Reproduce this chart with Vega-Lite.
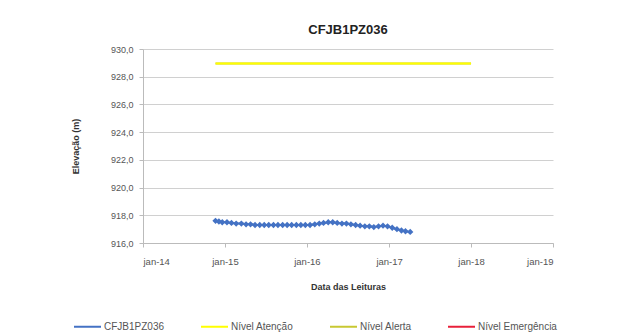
{
  "$schema": "https://vega.github.io/schema/vega-lite/v6.json",
  "autosize": "none",
  "width": 410,
  "height": 194,
  "padding": {"left": 143, "top": 49, "right": 71, "bottom": 92},
  "background": "white",
  "config": {
    "font": "Liberation Sans",
    "view": {"stroke": null}
  },
  "title": {
    "text": "CFJB1PZ036",
    "fontSize": 13,
    "font": "Liberation Sans",
    "fontWeight": "bold",
    "color": "#222222",
    "offset": 8
  },
  "data": {
    "values": [
      {"date": "2014-11-20", "value": 917.6, "serie": "CFJB1PZ036"},
      {"date": "2014-12-05", "value": 917.55, "serie": "CFJB1PZ036"},
      {"date": "2014-12-20", "value": 917.5, "serie": "CFJB1PZ036"},
      {"date": "2015-01-10", "value": 917.5, "serie": "CFJB1PZ036"},
      {"date": "2015-01-30", "value": 917.45, "serie": "CFJB1PZ036"},
      {"date": "2015-02-20", "value": 917.4, "serie": "CFJB1PZ036"},
      {"date": "2015-03-15", "value": 917.4, "serie": "CFJB1PZ036"},
      {"date": "2015-04-05", "value": 917.35, "serie": "CFJB1PZ036"},
      {"date": "2015-04-25", "value": 917.35, "serie": "CFJB1PZ036"},
      {"date": "2015-05-15", "value": 917.3, "serie": "CFJB1PZ036"},
      {"date": "2015-06-05", "value": 917.3, "serie": "CFJB1PZ036"},
      {"date": "2015-06-25", "value": 917.3, "serie": "CFJB1PZ036"},
      {"date": "2015-07-15", "value": 917.3, "serie": "CFJB1PZ036"},
      {"date": "2015-08-05", "value": 917.3, "serie": "CFJB1PZ036"},
      {"date": "2015-08-25", "value": 917.3, "serie": "CFJB1PZ036"},
      {"date": "2015-09-15", "value": 917.3, "serie": "CFJB1PZ036"},
      {"date": "2015-10-05", "value": 917.3, "serie": "CFJB1PZ036"},
      {"date": "2015-10-25", "value": 917.3, "serie": "CFJB1PZ036"},
      {"date": "2015-11-15", "value": 917.3, "serie": "CFJB1PZ036"},
      {"date": "2015-12-05", "value": 917.3, "serie": "CFJB1PZ036"},
      {"date": "2015-12-25", "value": 917.3, "serie": "CFJB1PZ036"},
      {"date": "2016-01-15", "value": 917.3, "serie": "CFJB1PZ036"},
      {"date": "2016-02-05", "value": 917.35, "serie": "CFJB1PZ036"},
      {"date": "2016-02-25", "value": 917.4, "serie": "CFJB1PZ036"},
      {"date": "2016-03-15", "value": 917.45, "serie": "CFJB1PZ036"},
      {"date": "2016-04-05", "value": 917.5, "serie": "CFJB1PZ036"},
      {"date": "2016-04-25", "value": 917.5, "serie": "CFJB1PZ036"},
      {"date": "2016-05-15", "value": 917.45, "serie": "CFJB1PZ036"},
      {"date": "2016-06-05", "value": 917.4, "serie": "CFJB1PZ036"},
      {"date": "2016-06-25", "value": 917.4, "serie": "CFJB1PZ036"},
      {"date": "2016-07-15", "value": 917.35, "serie": "CFJB1PZ036"},
      {"date": "2016-08-05", "value": 917.3, "serie": "CFJB1PZ036"},
      {"date": "2016-08-25", "value": 917.25, "serie": "CFJB1PZ036"},
      {"date": "2016-09-15", "value": 917.2, "serie": "CFJB1PZ036"},
      {"date": "2016-10-05", "value": 917.2, "serie": "CFJB1PZ036"},
      {"date": "2016-10-25", "value": 917.15, "serie": "CFJB1PZ036"},
      {"date": "2016-11-15", "value": 917.2, "serie": "CFJB1PZ036"},
      {"date": "2016-12-05", "value": 917.25, "serie": "CFJB1PZ036"},
      {"date": "2016-12-25", "value": 917.2, "serie": "CFJB1PZ036"},
      {"date": "2017-01-15", "value": 917.1, "serie": "CFJB1PZ036"},
      {"date": "2017-02-05", "value": 917.0, "serie": "CFJB1PZ036"},
      {"date": "2017-02-25", "value": 916.9, "serie": "CFJB1PZ036"},
      {"date": "2017-03-15", "value": 916.85, "serie": "CFJB1PZ036"},
      {"date": "2017-04-05", "value": 916.8, "serie": "CFJB1PZ036"},
      {"date": "2014-11-20", "value": 928.95, "serie": "Nível Alerta"},
      {"date": "2018-01-01", "value": 928.95, "serie": "Nível Alerta"},
      {"date": "2014-11-20", "value": 928.95, "serie": "Nível Atenção"},
      {"date": "2018-01-01", "value": 928.95, "serie": "Nível Atenção"}
    ]
  },
  "encoding": {
    "x": {
      "field": "date",
      "type": "temporal",
      "scale": {"type": "utc", "domain": [1388534400000, 1546300800000]},
      "axis": {
        "title": "Data das Leituras",
        "titleFont": "Liberation Sans",
        "titleFontSize": 9,
        "titleFontWeight": "bold",
        "titleColor": "#333333",
        "titlePadding": 17,
        "values": [1388534400000, 1420070400000, 1451606400000, 1483228800000, 1514764800000, 1546300800000],
        "labelExpr": "'jan-' + utcFormat(datum.value, '%y')",
        "labelFontSize": 9.5,
        "labelColor": "#555555",
        "labelPadding": 9,
        "grid": false,
        "domainColor": "#BBBBBB",
        "tickColor": "#BBBBBB",
        "tickSize": 4
      }
    },
    "y": {
      "field": "value",
      "type": "quantitative",
      "scale": {"domain": [916, 930], "nice": false, "zero": false},
      "axis": {
        "title": "Elevação (m)",
        "titleFont": "Liberation Sans",
        "titleFontSize": 9,
        "titleFontWeight": "bold",
        "titleColor": "#333333",
        "titlePadding": 30,
        "values": [916, 918, 920, 922, 924, 926, 928, 930],
        "labelExpr": "replace(format(datum.value, '.1f'), '.', ',')",
        "labelFontSize": 9,
        "labelColor": "#555555",
        "labelPadding": 6,
        "gridColor": "#D0D0D0",
        "domainColor": "#BBBBBB",
        "tickColor": "#BBBBBB",
        "tickSize": 4
      }
    },
    "color": {
      "field": "serie",
      "type": "nominal",
      "scale": {
        "domain": ["CFJB1PZ036", "Nível Atenção", "Nível Alerta", "Nível Emergência"],
        "range": ["#4472C4", "#FFFF00", "#C8C832", "#E8203A"]
      },
      "legend": {
        "title": null,
        "orient": "none",
        "direction": "horizontal",
        "legendX": -70,
        "legendY": 263,
        "symbolType": "stroke",
        "symbolStrokeWidth": 2,
        "symbolSize": 729,
        "labelFontSize": 10,
        "labelColor": "#555555",
        "columnPadding": 32,
        "labelOffset": 2
      }
    }
  },
  "layer": [
    {
      "mark": {"type": "line", "strokeWidth": 2},
      "transform": [{"filter": "datum.serie !== 'CFJB1PZ036'"}],
      "encoding": {"order": {"field": "serie", "sort": "ascending"}}
    },
    {
      "mark": {"type": "line", "strokeWidth": 2, "point": {"shape": "diamond", "size": 40, "filled": true}},
      "transform": [{"filter": "datum.serie === 'CFJB1PZ036'"}]
    }
  ]
}
